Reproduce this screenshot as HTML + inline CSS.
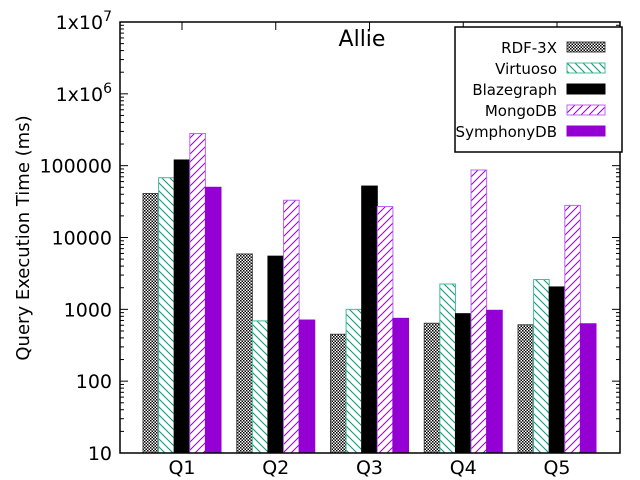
<!DOCTYPE html>
<html><head><meta charset="utf-8"><style>
html,body{margin:0;padding:0;background:#fff;width:640px;height:480px;overflow:hidden}
svg text{font-family:"DejaVu Sans","Liberation Sans",sans-serif;fill:#000}
</style></head><body>
<svg id="chart" width="640" height="480" viewBox="0 0 640 480">
<defs>
<pattern id="pChk" width="3" height="3" patternUnits="userSpaceOnUse"><rect width="3" height="3" fill="#fff"/><rect width="1.5" height="1.5" fill="#000"/><rect x="1.5" y="1.5" width="1.5" height="1.5" fill="#000"/></pattern>
<pattern id="pVir" width="8" height="8" patternUnits="userSpaceOnUse"><rect width="8" height="8" fill="#fff"/><path d="M-2,-2 L10,10 M-2,6 L2,10 M6,-2 L10,2" stroke="#009977" stroke-width="1"/></pattern>
<pattern id="pMon" width="8" height="8" patternUnits="userSpaceOnUse"><rect width="8" height="8" fill="#fff"/><path d="M-2,10 L10,-2 M-2,2 L2,-2 M6,10 L10,6" stroke="#9400d3" stroke-width="1"/></pattern>
</defs>
<g id="bars"></g>
<g id="axes"></g>
<text x="362" y="46" font-size="22" text-anchor="middle">Allie</text>
<text transform="translate(29,238) rotate(-90)" font-size="18" text-anchor="middle">Query Execution Time (ms)</text>
<g id="legend"></g>
</svg>
<script>
const categories=["Q1","Q2","Q3","Q4","Q5"];
const seriesNames=["RDF-3X","Virtuoso","Blazegraph","MongoDB","SymphonyDB"];
const rdf3x=[41000,5900,450,640,610];
const virtuoso=[68000,690,1000,2250,2600];
const blazegraph=[120000,5500,52000,870,2050];
const mongodb=[280000,33000,27000,87000,28000];
const symphonydb=[50000,710,750,970,630];
const yTickLabels=["10","100","1000","10000","100000","1x10^6","1x10^7"];

const series=[rdf3x,virtuoso,blazegraph,mongodb,symphonydb];
const fills=["url(#pChk)","url(#pVir)","#000","url(#pMon)","#9400d3"];
const strokes=["#444","#44bb99","#000","#bb66ee","#9400d3"];
const NS="http://www.w3.org/2000/svg";
const L=120,R=620,T=22,B=453;
const yMin=1,yMax=7;
function y(v){return B-(Math.log10(v)-yMin)/(yMax-yMin)*(B-T);}
const x0c=182,gstep=93.75;
function xc(i){return x0c+gstep*i;}
const bw=15.6;
function mk(tag,attrs,parent){const e=document.createElementNS(NS,tag);for(const k in attrs)e.setAttribute(k,attrs[k]);parent.appendChild(e);return e;}
const gb=document.getElementById('bars');
series.forEach((s,si)=>{s.forEach((v,ci)=>{
 const x0=xc(ci)-bw*2.5+si*bw;
 const r=mk('rect',{x:x0,y:y(v),width:bw,height:B-y(v),fill:fills[si],stroke:strokes[si],'stroke-width':1},gb);
 
 
});});
const ga=document.getElementById('axes');
mk('rect',{x:L,y:T,width:R-L,height:B-T,fill:'none',stroke:'#000','stroke-width':1.5},ga);
for(let d=yMin;d<=yMax;d++){
 const yy=y(Math.pow(10,d));
 mk('line',{x1:L,x2:L+8,y1:yy,y2:yy,stroke:'#000'},ga);
 mk('line',{x1:R,x2:R-8,y1:yy,y2:yy,stroke:'#000'},ga);
 const lab=yTickLabels[d-yMin];
 const t=mk('text',{x:L-8,y:yy+7,'font-size':19,'text-anchor':'end'},ga);
 
 
 if(lab.indexOf('^')>=0){const p=lab.split('^');t.textContent=p[0];const ts=mk('tspan',{dy:-8,'font-size':14},t);ts.textContent=p[1];}
 else t.textContent=lab;
 if(d<yMax)for(let m=2;m<10;m++){const ym=y(m*Math.pow(10,d));
  mk('line',{x1:L,x2:L+4,y1:ym,y2:ym,stroke:'#000'},ga);
  mk('line',{x1:R,x2:R-4,y1:ym,y2:ym,stroke:'#000'},ga);}
}
categories.forEach((c,i)=>{
 const xx=xc(i);
 mk('line',{x1:xx,x2:xx,y1:B,y2:B-8,stroke:'#000'},ga);
 mk('line',{x1:xx,x2:xx,y1:T,y2:T+8,stroke:'#000'},ga);
 const t=mk('text',{x:xx,y:B+21,'font-size':19,'text-anchor':'middle'},ga);
 t.textContent=c;
 
 
});
const lg=document.getElementById('legend');
mk('rect',{x:455,y:27,width:167,height:125,fill:'#fff',stroke:'#000','stroke-width':1.5},lg);
seriesNames.forEach((n,i)=>{
 const yy=47+i*21;
 const t=mk('text',{x:557,y:yy+6,'font-size':15,'text-anchor':'end'},lg);
 t.textContent=n;
 
 
 const r=mk('rect',{x:567,y:yy-5,width:38,height:10,fill:fills[i],stroke:strokes[i]},lg);
 
 
});
</script>
</body></html>
